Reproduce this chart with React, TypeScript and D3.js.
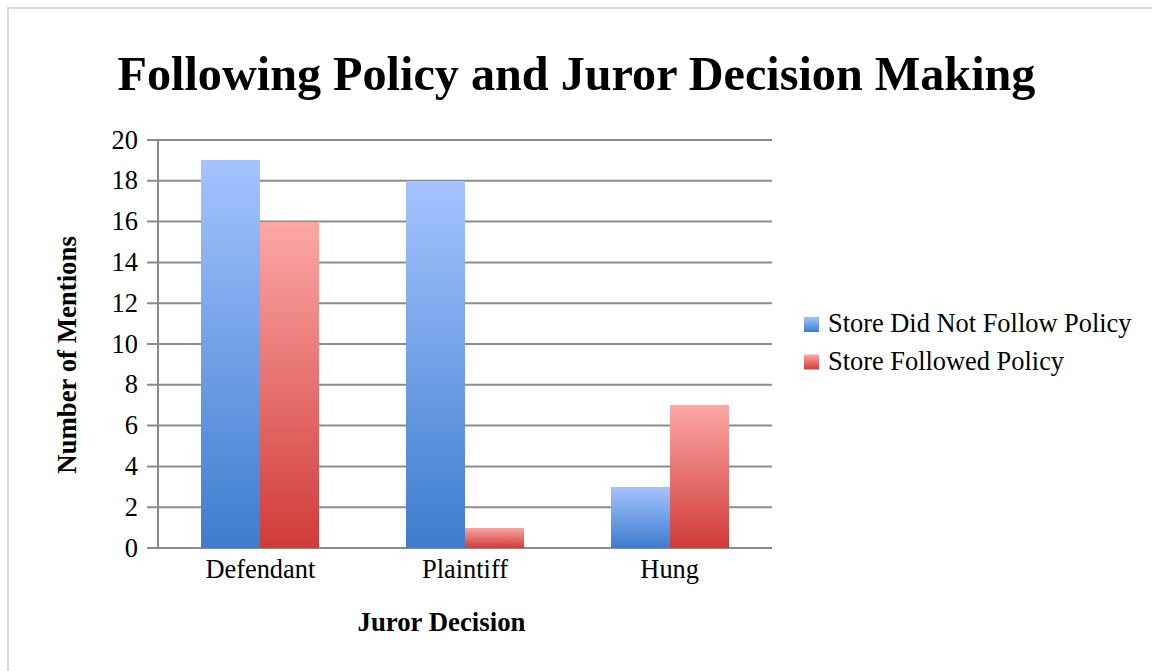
import { scaleBand, scaleLinear } from "d3";

const categories = ["Defendant", "Plaintiff", "Hung"];
const seriesNames = ["Store Did Not Follow Policy", "Store Followed Policy"];
const didNotFollow = [19, 18, 3];
const followed = [16, 1, 7];
const yTicks = [0, 2, 4, 6, 8, 10, 12, 14, 16, 18, 20];

const colors = [
  { top: "#a5c3fe", bottom: "#3d7dce" },
  { top: "#fca8a5", bottom: "#d03b39" },
];

export default function App() {
  const width = 1152;
  const height = 671;
  const left = 158;
  const right = 772;
  const top = 140;
  const bottom = 548;
  const font = "'Liberation Serif', 'Times New Roman', serif";

  const x = scaleBand().domain(categories).range([left, right]).paddingInner(0.424).paddingOuter(0.212);
  const inner = scaleBand().domain(seriesNames).rangeRound([0, Math.round(x.bandwidth())]);
  const y = scaleLinear().domain([0, 20]).range([bottom, top]);

  const series = [didNotFollow, followed];

  return (
    <svg
      width={width}
      height={height}
      style={{ position: "absolute", left: 0, top: 0, background: "#fff" }}
      fontFamily={font}
    >
      <defs>
        {colors.map((c, i) => (
          <linearGradient key={i} id={`grad${i}`} x1="0" y1="0" x2="0" y2="1">
            <stop offset="0" stopColor={c.top} />
            <stop offset="1" stopColor={c.bottom} />
          </linearGradient>
        ))}
      </defs>
      <rect x={8} y={8} width={width} height={height} fill="#fff" stroke="#d9d9d9" strokeWidth={2} />

      <text x={576.5} y={90} textAnchor="middle" fontSize={48.2} fontWeight="bold" fill="#000">
        Following Policy and Juror Decision Making
      </text>

      {yTicks.map((t) => (
        <g key={t}>
          <line x1={left - 11} x2={right} y1={y(t)} y2={y(t)} stroke="#8c8c8c" strokeWidth={2} />
          <text x={138} y={y(t) + 8.5} textAnchor="end" fontSize={26.4} fill="#000">
            {t}
          </text>
        </g>
      ))}
      <line x1={left} x2={left} y1={top} y2={bottom} stroke="#8c8c8c" strokeWidth={2} />

      {categories.map((cat, ci) => (
        <g key={cat}>
          {series.map((vals, si) => {
            const bx = Math.round(x(cat) ?? 0) + (inner(seriesNames[si]) ?? 0);
            const by = y(vals[ci]);
            return (
              <rect
                key={si}
                x={bx}
                y={by}
                width={inner.bandwidth()}
                height={bottom - by}
                fill={`url(#grad${si})`}
                shapeRendering="crispEdges"
              />
            );
          })}
          <text x={(x(cat) ?? 0) + x.bandwidth() / 2} y={578} textAnchor="middle" fontSize={26.4} fill="#000">
            {cat}
          </text>
        </g>
      ))}

      <text x={441.5} y={631} textAnchor="middle" fontSize={26.8} fontWeight="bold" fill="#000">
        Juror Decision
      </text>
      <text
        transform={`translate(76, 355) rotate(-90)`}
        textAnchor="middle"
        fontSize={26.8}
        fontWeight="bold"
        fill="#000"
      >
        Number of Mentions
      </text>

      {seriesNames.map((name, i) => (
        <g key={name} transform={`translate(804, ${317 + i * 37.5})`}>
          <rect width={15} height={15} fill={`url(#grad${i})`} />
          <text x={24} y={15} fontSize={26.4} fill="#000">
            {name}
          </text>
        </g>
      ))}
    </svg>
  );
}
